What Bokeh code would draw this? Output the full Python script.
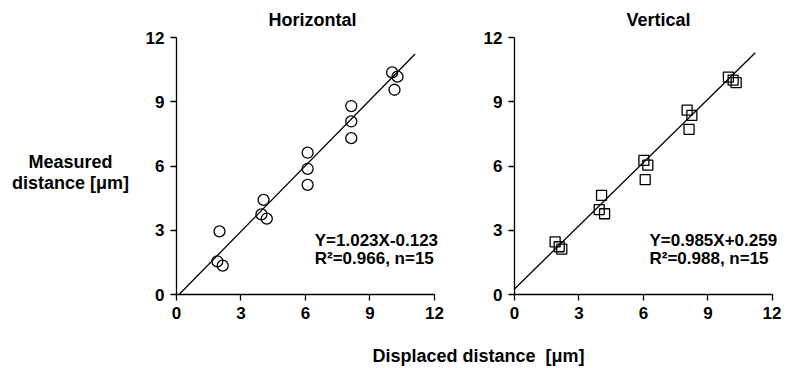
from bokeh.plotting import figure
from bokeh.layouts import column, row
from bokeh.models import Label, Range1d, ColumnDataSource
from bokeh.embed import file_html
from bokeh.resources import INLINE

FONT = "Liberation Sans"

# ---- data ----
ticks = [0, 3, 6, 9, 12]

h_x = [2.0, 1.9, 2.15, 4.05, 3.95, 4.2, 6.1, 6.1, 6.1, 8.13, 8.13, 8.13, 10.03, 10.28, 10.14]
h_y = [2.95, 1.55, 1.35, 4.42, 3.74, 3.54, 6.62, 5.87, 5.12, 8.8, 8.08, 7.3, 10.37, 10.17, 9.56]
h_slope, h_icpt = 1.023, -0.123
h_line_x = [0.12, 11.1]

v_x = [1.89, 2.08, 2.2, 4.05, 3.94, 4.19, 6.02, 6.2, 6.08, 8.03, 8.25, 8.12, 9.95, 10.17, 10.31]
v_y = [2.46, 2.23, 2.12, 4.63, 3.96, 3.77, 6.26, 6.04, 5.36, 8.61, 8.36, 7.71, 10.15, 10.01, 9.89]
v_slope, v_icpt = 0.985, 0.259
v_line_x = [0.0, 11.2]

titles = ["Horizontal", "Vertical"]
eq_texts = [["Y=1.023X-0.123", "R\u00b2=0.966, n=15"],
            ["Y=0.985X+0.259", "R\u00b2=0.988, n=15"]]
y_label_lines = ["Measured", "distance [\u03bcm]"]
x_label = "Displaced distance \u00a0[\u03bcm]"


def blank(w, h):
    f = figure(output_backend="svg", toolbar_location=None, frame_width=w, frame_height=h,
               min_border=0, x_range=Range1d(0, w), y_range=Range1d(0, h))
    f.axis.visible = False
    f.grid.visible = False
    f.outline_line_color = None
    return f


def lab(f, x, y, text, size, align="center"):
    f.add_layout(Label(x=x, y=y, text=text, text_align=align, text_baseline="middle",
                       text_font=FONT, text_font_size=size, text_font_style="bold",
                       text_color="black"))


def make_panel(xs, ys, slope, icpt, line_x, marker, eqs, eq_x, border_left, border_right):
    # x range a little wider than the axis (bounds 0..12) so the equation text fits
    p = figure(output_backend="svg", toolbar_location=None,
               frame_width=267, frame_height=257,
               min_border_left=border_left, min_border_right=border_right,
               min_border_top=9, min_border_bottom=36,
               x_range=Range1d(0, 12.42), y_range=Range1d(0, 12))
    p.outline_line_color = None
    p.xgrid.visible = False
    p.ygrid.visible = False
    p.xaxis.bounds = (0, 12)
    for ax in (p.xaxis[0], p.yaxis[0]):
        ax.ticker = ticks
        ax.axis_line_width = 1.3
        ax.axis_line_color = "black"
        ax.major_tick_line_color = "black"
        ax.major_tick_line_width = 1.3
        ax.major_tick_out = 6
        ax.major_tick_in = 0
        ax.minor_tick_line_color = None
        ax.major_label_text_font = FONT
        ax.major_label_text_font_size = "17px"
        ax.major_label_text_font_style = "bold"
        ax.major_label_text_color = "black"
        ax.major_label_standoff = 6
    ly = [slope * x + icpt for x in line_x]
    p.line(line_x, ly, line_color="black", line_width=1.3)
    src = ColumnDataSource(dict(x=xs, y=ys))
    p.scatter("x", "y", source=src, marker=marker, size=11 if marker == "circle" else 10,
              fill_alpha=0, line_color="black", line_width=1.3)
    for i, t in enumerate(eqs):
        lab(p, eq_x, [2.52, 1.68][i], t, "17px", align="left")
    return p


p1 = make_panel(h_x, h_y, h_slope, h_icpt, h_line_x, "circle", eq_texts[0], 6.43, 36, 21)
p2 = make_panel(v_x, v_y, v_slope, v_icpt, v_line_x, "square", eq_texts[1], 6.28, 50, 0)

# top strip with panel titles
top = blank(780, 28)
lab(top, 312, 9, titles[0], "18px")
lab(top, 658, 9, titles[1], "18px")

# left strip with the horizontal y-axis label
left = blank(140, 302)
lab(left, 70, 178, y_label_lines[0], "18px")
lab(left, 70, 157, y_label_lines[1], "18px")

# bottom strip with the shared x-axis label
bottom = blank(780, 37)
lab(bottom, 478, 12, x_label, "18px")

layout = column(top, row(left, p1, p2), bottom)
open("out.html", "w").write(file_html(layout, INLINE))
